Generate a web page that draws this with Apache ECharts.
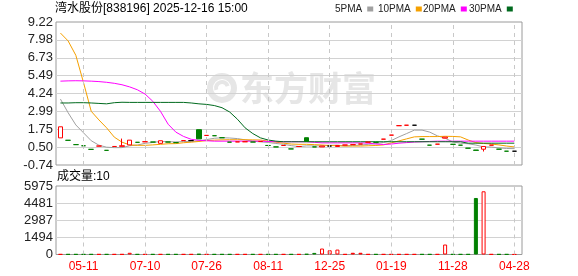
<!DOCTYPE html>
<html><head><meta charset="utf-8">
<script src="https://cdn.jsdelivr.net/npm/echarts@6/dist/echarts.min.js"></script>
<style>html,body{margin:0;padding:0;background:#fff}#c{width:578px;height:276px}</style>
</head><body><div id="c"></div>
<script>
// ---- data ----
const tickIdx = [3, 11, 19, 27, 35, 43, 51, 59];
const xTickLabels = ['05-11', '07-10', '07-26', '08-11', '12-25', '01-19', '11-28', '04-28'];
const priceTicks = ['-0.74', '0.50', '1.75', '2.99', '4.24', '5.49', '6.73', '7.98', '9.22'];
const volTicks = ['0', '1494', '2987', '4481', '5975'];

const opens = [1.15,0.98,0.68,0.60,0.35,0.58,0.28,0.55,0.56,0.66, 0.84,0.88,0.86,0.77,0.86,0.82,0.96,0.96,1.72,1.32,
  1.30,1.16,0.85,0.87,0.88,0.86,0.90,0.62,0.52,0.62, 0.38,0.55,1.16,0.52,0.52,0.58,0.55,0.65,0.68,0.72,
  0.85,0.84,1.06,1.34,2.00,2.03,2.03,1.06,0.64,0.71, 1.13,0.70,0.64,0.43,0.30,0.36,0.64,0.36,0.22,0.22];
const closes = [1.92,0.98,0.68,0.60,0.35,0.58,0.28,0.55,0.60,0.99, 0.84,0.88,0.86,0.95,0.86,0.82,0.96,0.96,1.08,1.32,
  1.30,1.16,0.85,0.87,0.88,0.86,0.90,0.62,0.52,0.62, 0.38,0.55,0.90,0.52,0.58,0.58,0.62,0.65,0.68,0.72,
  0.85,0.84,1.06,1.34,2.00,2.03,2.03,1.06,0.64,0.71, 1.20,0.70,0.64,0.43,0.28,0.55,0.64,0.36,0.22,0.22];
const lows = [1.15,0.98,0.68,0.60,0.35,0.58,0.28,0.55,0.56,0.66, 0.84,0.88,0.86,0.77,0.86,0.82,0.96,0.96,1.08,1.32,
  1.30,1.16,0.85,0.87,0.88,0.86,0.90,0.62,0.52,0.62, 0.38,0.55,0.90,0.52,0.52,0.58,0.55,0.65,0.68,0.72,
  0.85,0.84,1.06,1.34,2.00,2.03,2.03,1.06,0.64,0.71, 1.13,0.70,0.64,0.43,0.28,0.20,0.64,0.36,0.22,0.22];
const highs = [1.92,0.98,0.68,0.60,0.35,0.58,0.28,0.55,1.10,0.99, 0.84,0.88,0.86,0.95,0.86,0.82,0.96,0.96,1.72,1.32,
  1.30,1.16,0.85,0.87,0.88,0.86,0.90,0.62,0.52,0.62, 0.38,0.55,1.16,0.52,0.58,0.58,0.62,0.65,0.68,0.72,
  0.85,0.84,1.06,1.34,2.00,2.03,2.03,1.06,0.64,0.71, 1.20,0.70,0.64,0.43,0.30,0.55,0.64,0.36,0.22,0.22];
const volumes = [20,20,20,20,20,20,20,20,20,150, 20,20,20,20,20,20,20,20,40,20,
  20,20,20,20,20,20,20,20,20,20, 20,20,40,140,520,370,430,20,150,150,
  20,20,20,20,20,20,20,20,20,20, 870,20,20,20,4930,5513,20,20,20,10];

const ma5 = [3.85,2.90,2.05,1.50,0.95,0.64,0.50,0.47,0.47,0.60, 0.65,0.77,0.83,0.90,0.88,0.87,0.89,0.91,0.94,1.03,
  1.12,1.16,1.14,1.10,1.01,0.92,0.87,0.83,0.76,0.70, 0.61,0.54,0.59,0.59,0.59,0.63,0.64,0.59,0.62,0.65,
  0.70,0.75,0.83,0.96,1.22,1.45,1.69,1.69,1.55,1.29, 1.13,0.86,0.78,0.74,0.65,0.52,0.51,0.45,0.41,0.40];
const ma10 = [8.45,7.90,6.90,5.00,3.00,2.40,1.85,1.20,0.85,0.66, 0.63,0.63,0.66,0.70,0.74,0.75,0.81,0.85,0.90,0.96,
  0.99,1.01,1.02,1.02,1.02,1.01,1.00,0.92,0.85,0.78, 0.72,0.70,0.70,0.68,0.65,0.62,0.60,0.58,0.58,0.58,
  0.60,0.62,0.66,0.80,0.94,1.08,1.22,1.24,1.24,1.24, 1.26,1.25,1.22,1.00,0.82,0.76,0.72,0.66,0.58,0.52];
const ma20 = [5.10,5.12,5.13,5.12,5.10,5.07,5.02,4.95,4.85,4.70, 4.50,4.20,3.70,3.00,2.10,1.55,1.25,1.05,0.98,0.95,
  0.92,0.92,0.92,0.92,0.92,0.92,0.92,0.90,0.88,0.88, 0.88,0.88,0.88,0.84,0.80,0.80,0.80,0.80,0.80,0.80,
  0.78,0.72,0.69,0.72,0.78,0.82,0.86,0.88,0.90,0.92, 0.92,0.92,0.92,0.92,0.92,0.92,0.92,0.92,0.92,0.92];
const ma30 = [3.58,3.58,3.60,3.60,3.58,3.55,3.52,3.60,3.63,3.62, 3.62,3.62,3.62,3.62,3.62,3.62,3.62,3.58,3.52,3.48,
  3.40,3.25,2.95,2.45,1.85,1.45,1.15,1.00,0.92,0.88, 0.88,0.88,0.88,0.88,0.88,0.88,0.88,0.88,0.88,0.88,
  0.88,0.88,0.88,0.88,0.88,0.88,0.88,0.88,0.88,0.88, 0.88,0.88,0.88,0.78,0.78,0.78,0.78,0.78,0.78,0.78];

// ---- build ----
const RED = '#ff0000', GREEN = '#008000', BLACK = '#000000';
const N = closes.length;
const cats = Array.from({length: N}, (_, i) => {
  const k = tickIdx.indexOf(i);
  return k >= 0 ? xTickLabels[k] : String(i);
});
function signOf(i) {
  if (closes[i] > opens[i]) return 1;
  if (closes[i] < opens[i]) return -1;
  if (i === 0) return 1;
  const p = closes[i - 1];
  return closes[i] > p ? 1 : (closes[i] < p ? -1 : 0);
}
const candleData = [], volData = [];
for (let i = 0; i < N; i++) {
  const s = signOf(i);
  const doji = closes[i] === opens[i];
  const item = {value: [opens[i], closes[i], lows[i], highs[i]]};
  if (doji) {
    const c = s > 0 ? RED : (s < 0 ? GREEN : BLACK);
    item.itemStyle = {color: c, color0: c, borderColor: c, borderColor0: c, borderColorDoji: c};
  }
  candleData.push(item);
  let vs;
  if (closes[i] > opens[i] || (doji && s === 0)) vs = {color: '#ffffff', borderColor: RED, borderWidth: 1};
  else if (closes[i] < opens[i] || s < 0) vs = {color: GREEN, borderColor: GREEN, borderWidth: 1};
  else vs = {color: RED, borderColor: RED, borderWidth: 1};
  volData.push({value: volumes[i], itemStyle: vs});
}
const vlines = {
  silent: true, symbol: 'none', animation: false,
  label: {show: false},
  lineStyle: {color: '#c8c8c8', type: [4, 4], width: 1},
  data: tickIdx.map(i => ({xAxis: cats[i]}))
};
const FONT = '"Liberation Sans", Arial, "Noto Sans CJK SC", sans-serif';
const legendBase = {
  top: 4, align: 'right', icon: 'rect', itemWidth: 6, itemHeight: 5,
  selectedMode: false, padding: 0,
  textStyle: {fontSize: 10, color: '#222', fontFamily: FONT}
};
const maNames = ['5PMA', '10PMA', '20PMA', '30PMA'];
const maColors = ['#a0a0a0', '#f5a000', '#ff00ff', '#006a1e'];
const maData = [ma5, ma10, ma20, ma30];
const legendLeft = [335, 378, 423, 469];

const chart = echarts.init(document.getElementById('c'), null, {renderer: 'canvas'});
chart.setOption({
  animation: false,
  backgroundColor: '#ffffff',
  textStyle: {fontFamily: FONT},
  title: {
    text: '湾水股份[838196] 2025-12-16 15:00', left: 55, top: 3, padding: 0,
    textStyle: {fontSize: 12, fontWeight: 'normal', color: '#000', fontFamily: FONT}
  },
  legend: maNames.map((n, k) => Object.assign({}, legendBase, {left: legendLeft[k], data: [n]})),
  graphic: [
    {type: 'circle', z: -10, shape: {cx: 222, cy: 88, r: 12}, style: {fill: 'none', stroke: '#e6e6e6', lineWidth: 6}},
    {type: 'arc', z: -9, shape: {cx: 222, cy: 88, r: 6, startAngle: Math.PI * 0.9, endAngle: Math.PI * 1.9},
      style: {fill: 'none', stroke: '#e6e6e6', lineWidth: 4}},
    {type: 'text', z: -10, style: {text: '东方财富', x: 240, y: 88, fontSize: 34, fontWeight: 'bold',
      fontFamily: '"Noto Sans CJK SC"', fill: '#e6e6e6', verticalAlign: 'middle'}},
    {type: 'text', style: {text: '成交量:' + volumes[N - 1], x: 57, y: 177, fontSize: 12,
      fontFamily: FONT, fill: '#000', verticalAlign: 'middle'}}
  ],
  grid: [
    {left: 56, top: 22, width: 466, height: 143, show: true, borderColor: '#9a9a9a', borderWidth: 1},
    {left: 56.6, top: 22, width: 461.6, height: 143},
    {left: 56, top: 186, width: 466, height: 68.5, show: true, borderColor: '#9a9a9a', borderWidth: 1},
    {left: 56.6, top: 186, width: 461.6, height: 68.5}
  ],
  xAxis: [
    {gridIndex: 0, type: 'value', min: 0, max: 1, show: false},
    {gridIndex: 1, type: 'category', data: cats, boundaryGap: true,
      axisLine: {show: false}, axisTick: {show: false}, axisLabel: {show: false}, splitLine: {show: false}},
    {gridIndex: 2, type: 'value', min: 0, max: 1, show: false},
    {gridIndex: 3, type: 'category', data: cats, boundaryGap: true,
      axisLine: {show: false}, axisTick: {show: false}, splitLine: {show: false},
      axisLabel: {interval: (i) => tickIdx.indexOf(i) >= 0, color: RED, fontSize: 12, margin: 6, fontFamily: FONT}}
  ],
  yAxis: [
    {gridIndex: 0, type: 'value', min: 0, max: priceTicks.length - 1, interval: 1,
      axisLine: {show: false}, axisTick: {show: false},
      axisLabel: {formatter: v => priceTicks[Math.round(v)], fontSize: 13, color: '#222', margin: 3, fontFamily: FONT},
      splitLine: {show: true, showMinLine: false, showMaxLine: false, lineStyle: {color: '#d2d2d2', width: 1}}},
    {gridIndex: 1, type: 'value', min: -0.74, max: 9.22, show: false, splitLine: {show: false}},
    {gridIndex: 2, type: 'value', min: 0, max: volTicks.length - 1, interval: 1,
      axisLine: {show: false}, axisTick: {show: false},
      axisLabel: {formatter: v => volTicks[Math.round(v)], fontSize: 13, color: '#222', margin: 3, fontFamily: FONT},
      splitLine: {show: true, showMinLine: false, showMaxLine: false, lineStyle: {color: '#d2d2d2', width: 1}}},
    {gridIndex: 3, type: 'value', min: 0, max: 5975, show: false, splitLine: {show: false}}
  ],
  series: maNames.map((n, k) => ({
    name: n, type: 'line', xAxisIndex: 1, yAxisIndex: 1, data: maData[k],
    symbol: 'none', z: 2, lineStyle: {width: 1, color: maColors[k]}, itemStyle: {color: maColors[k]}
  })).concat([
    {type: 'candlestick', xAxisIndex: 1, yAxisIndex: 1, data: candleData, barWidth: 5, z: 3,
      itemStyle: {color: '#ffffff', color0: GREEN, borderColor: RED, borderColor0: GREEN, borderWidth: 1},
      markLine: vlines},
    {type: 'bar', xAxisIndex: 3, yAxisIndex: 3, data: volData, barWidth: 4, z: 3,
      markLine: vlines}
  ])
});
</script></body></html>
